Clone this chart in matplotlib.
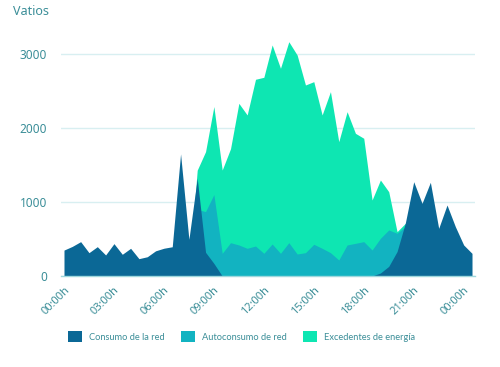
"""
Consumo horario: red, autoconsumo y excedentes (Vatios).
"""
import matplotlib
matplotlib.use("Agg")
import matplotlib.pyplot as plt
from matplotlib.patches import Patch

plt.rcParams['font.family'] = ['Noto Sans', 'DejaVu Sans']

COLORS = ["#0b6896", "#12b3c1", "#0ee6b2"]
LABELS = ["Consumo de la red", "Autoconsumo de red", "Excedentes de energía"]
TEXT_COLOR = "#3b8e98"

# half-hour samples (50 points)
consumo_red = [350, 400, 464, 315, 396, 284, 437, 293, 374, 234,
               260, 340, 375, 395, 1650, 496, 1320, 320, 170, 0,
               0, 0, 0, 0, 0, 0, 0, 0, 0, 0,
               0, 0, 0, 0, 0, 0, 0, 0, 40, 130,
               330, 720, 1274, 982, 1266, 644, 959, 667, 419, 306]
autoconsumo = [0, 0, 0, 0, 0, 0, 0, 0, 0, 0,
               0, 0, 0, 0, 0, 0, 900, 870, 1100, 306,
               450, 419, 374, 405, 306, 432, 306, 450, 297, 315,
               428, 374, 315, 216, 419, 441, 464, 351, 509, 622,
               577, 666, 0, 0, 0, 0, 0, 0, 0, 0]
excedentes = [0, 0, 0, 0, 0, 0, 0, 0, 0, 0,
              0, 0, 0, 0, 0, 0, 1430, 1680, 2290, 1432,
              1720, 2333, 2176, 2658, 2685, 3122, 2807, 3166, 2986, 2581,
              2626, 2176, 2491, 1815, 2220, 1928, 1861, 1027, 1297, 1139,
              599, 712, 0, 0, 0, 0, 0, 0, 0, 0]
tick_labels = ["00:00h", "03:00h", "06:00h", "09:00h", "12:00h",
               "15:00h", "18:00h", "21:00h", "00:00h"]
y_ticks = [0, 1000, 2000, 3000]


def draw_plot():
    fig = plt.figure(figsize=(5, 3.67), dpi=100)
    ax = fig.add_axes([0.122, 0.248, 0.828, 0.6654])
    x = list(range(len(consumo_red)))

    # back to front: excedentes, autoconsumo, consumo de la red
    ax.fill_between(x, 0, excedentes, color=COLORS[2], linewidth=0)
    ax.fill_between(x, 0, autoconsumo, color=COLORS[1], linewidth=0)
    ax.fill_between(x, 0, consumo_red, color=COLORS[0], linewidth=0)

    ax.set_xlim(-0.36, len(x) - 1 + 0.36)
    ax.set_ylim(0, 3300)
    ax.set_yticks(y_ticks)
    ax.set_yticklabels([str(v) for v in y_ticks])
    ax.set_xticks(range(0, 49, 6))
    ax.set_xticklabels(tick_labels, rotation=45, ha='right', va='top',
                       rotation_mode='anchor')
    ax.tick_params(axis='both', length=0, colors=TEXT_COLOR, labelsize=8)
    ax.tick_params(axis='y', pad=10, labelsize=8.5)
    ax.tick_params(axis='x', pad=6)
    ax.yaxis.grid(True, color="#d8eff1", linewidth=1)
    ax.set_axisbelow(True)
    for s in ['top', 'right', 'left']:
        ax.spines[s].set_visible(False)
    ax.spines['bottom'].set_color("#9fd8dd")
    ax.spines['bottom'].set_linewidth(1)

    fig.text(0.026, 0.97, "Vatios", color=TEXT_COLOR, fontsize=9,
             ha='left', va='center')

    handles = [Patch(facecolor=c, edgecolor='none') for c in COLORS]
    leg = fig.legend(handles, LABELS, loc='center', ncol=3,
                     bbox_to_anchor=(0.483, 0.083), frameon=False,
                     prop={'family': 'Lato', 'size': 6.7},
                     handlelength=1.5, handleheight=1.5,
                     handletextpad=0.75, columnspacing=1.75)
    for t in leg.get_texts():
        t.set_color(TEXT_COLOR)

    fig.savefig("out.png", dpi=100)


if __name__ == "__main__":
    draw_plot()
